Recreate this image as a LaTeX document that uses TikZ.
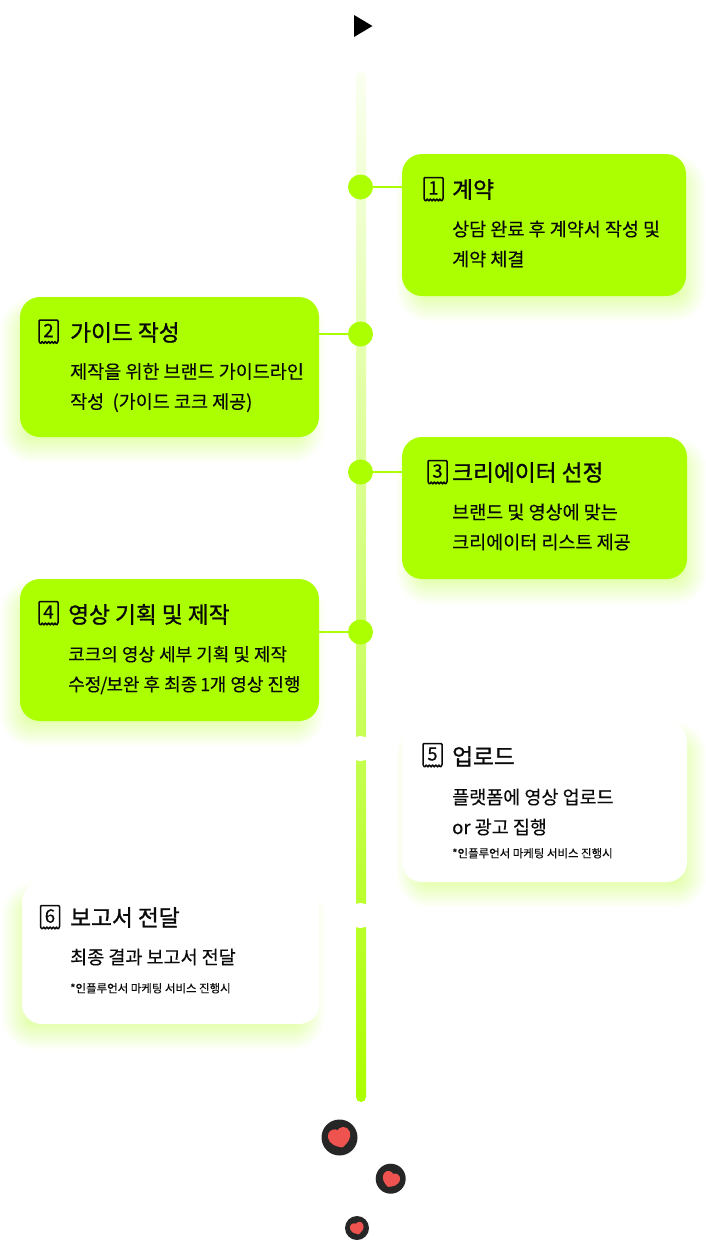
\documentclass[tikz,border=0pt]{standalone}
\usepackage{fontspec}
\setmainfont{Noto Sans CJK KR}
\newfontfamily\krm[FakeBold=0.25]{Noto Sans CJK KR}
\newfontfamily\krb[FakeBold=1.1]{Noto Sans CJK KR}
\newfontfamily\krn[FakeBold=0.5]{Noto Sans CJK KR}
\definecolor{lime}{HTML}{ABFF00}
\definecolor{inkdark}{HTML}{0A0A0A}
\definecolor{ballc}{HTML}{262626}
\definecolor{heartc}{HTML}{EF5350}
\tikzset{
  x=1pt,y=-1pt,
  cardbase/.style={rounded corners=20pt,minimum width=#1,inner sep=0pt,outer sep=0pt},
  dotn/.style={circle,fill=lime,minimum size=25pt,inner sep=0pt,outer sep=0pt},
  gapn/.style={circle,fill=white,minimum size=25pt,inner sep=0pt},
  linkline/.style={draw=lime,line width=1.2pt},
  titlet/.style={anchor=base west,inner sep=0pt,text=inkdark,font=\krb\fontsize{22.7}{24}\selectfont},
  bodyt/.style={anchor=base west,inner sep=0pt,text=inkdark,font=\krm\fontsize{18.5}{20}\selectfont},
  bodysmall/.style={anchor=base west,inner sep=0pt,text=inkdark,font=\krm\fontsize{18}{20}\selectfont},
  notet/.style={anchor=base west,inner sep=0pt,text=inkdark,font=\krm\fontsize{11.45}{13}\selectfont},
  numt/.style={inner sep=0pt,text=inkdark,font=\krn\fontsize{18.5}{19}\selectfont},
  iconline/.style={draw=inkdark,line width=1.5pt,line join=round},
}
% soft shadow: x1 y1 x2 y2 dx
\newcommand{\cardglow}[5]{%
  \foreach \k in {0,...,26}{%
    \pgfmathsetmacro{\gr}{13-\k}
    \pgfmathsetmacro{\rr}{max(20+\gr,4)}
    \path[fill=lime,fill opacity=0.013,rounded corners=\rr pt]
      ({#1+#5-\gr},{#2+13-\gr}) rectangle ({#3+#5+\gr},{#4+13+\gr});
  }}
% receipt icon: left top number name
\newcommand{\receipt}[4]{%
  \draw[iconline] (#1,#2+21)--(#1,#2+1)--(#1+1,#2)--(#1+18,#2)--(#1+19,#2+1)--(#1+19,#2+21)
    .. controls (#1+18,#2+24) and (#1+17.2,#2+24) .. (#1+16,#2+21.5)
    .. controls (#1+15,#2+24) and (#1+14,#2+24) .. (#1+12.8,#2+21.5)
    .. controls (#1+11.8,#2+24) and (#1+10.8,#2+24) .. (#1+9.6,#2+21.5)
    .. controls (#1+8.6,#2+24) and (#1+7.6,#2+24) .. (#1+6.4,#2+21.5)
    .. controls (#1+5.4,#2+24) and (#1+4.4,#2+24) .. (#1+3.2,#2+21.5)
    .. controls (#1+2.2,#2+24) and (#1+1,#2+24) .. (#1,#2+21);
  \node[numt] (#4) at (#1+9.5,#2+10.5) {#3};}
% heart: cx cy size rotation
\newcommand{\heartshape}[4]{%
  \filldraw[fill=heartc,draw=heartc,line join=round,line width=#3*0.3pt,shift={(#1,#2)},rotate=#4,scale=#3]
    (0,0.95) .. controls (-0.5,0.72) and (-1.05,0.35) .. (-1,-0.25)
    .. controls (-0.95,-0.85) and (-0.2,-0.9) .. (0,-0.5)
    .. controls (0.2,-0.9) and (0.95,-0.85) .. (1,-0.25)
    .. controls (1.05,0.35) and (0.5,0.72) .. (0,0.95) -- cycle;}
\begin{document}
\begin{tikzpicture}
\useasboundingbox[fill=white] (0,0) rectangle (705,1245);
% start triangle
\fill[black] (354,15) -- (372.5,26) -- (354,37) -- cycle;
% spine
\node[minimum width=10pt,minimum height=1030pt,inner sep=0pt,rounded corners=5pt,
  top color=lime!6!white,bottom color=lime] (spine) at (361,587) {};
\node[gapn] (gapA) at (360.5,748.5) {};
\node[gapn] (gapB) at (360.5,915.5) {};
% glows
\cardglow{402}{154}{686}{296}{7}
\cardglow{20}{297}{319}{437}{-7}
\cardglow{402}{437}{687}{579}{7}
\cardglow{20}{579}{319}{721}{-7}
\cardglow{402}{722}{687}{882}{7}
\cardglow{22}{882}{319}{1024}{-7}
% dots
\node[dotn] (dotA) at (360.5,187) {};
\node[dotn] (dotB) at (360.5,334) {};
\node[dotn] (dotC) at (360.5,472) {};
\node[dotn] (dotD) at (360.5,632) {};
% cards
\node[cardbase=284pt,minimum height=142pt,fill=lime] (cardA) at (544,225) {};
\node[cardbase=299pt,minimum height=140pt,fill=lime] (cardB) at (169.5,367) {};
\node[cardbase=285pt,minimum height=142pt,fill=lime] (cardC) at (544.5,508) {};
\node[cardbase=299pt,minimum height=142pt,fill=lime] (cardD) at (169.5,650) {};
\node[cardbase=285pt,minimum height=160pt,fill=white] (cardE) at (544.5,802) {};
\node[cardbase=297pt,minimum height=142pt,fill=white] (cardF) at (170.5,953) {};
% connectors
\draw[linkline] (dotA.east) -- (dotA.east -| cardA.west);
\draw[linkline] (dotB.west) -- (dotB.west -| cardB.east);
\draw[linkline] (dotC.east) -- (dotC.east -| cardC.west);
\draw[linkline] (dotD.west) -- (dotD.west -| cardD.east);
% card 1
\receipt{424}{177.5}{1}{numA}
\node[titlet] (titleA) at (452,198) {계약};
\node[bodyt] (bodyA1) at (452,236) {상담 완료 후 계약서 작성 및};
\node[bodyt] (bodyA2) at (452,266) {계약 체결};
% card 2
\receipt{39}{320}{2}{numB}
\node[titlet] (titleB) at (70,341) {가이드 작성};
\node[bodyt] (bodyB1) at (70,378.5) {제작을 위한 브랜드 가이드라인};
\node[bodyt] (bodyB2) at (70,408.5) {작성\ \ (가이드 코크 제공)};
% card 3
\receipt{428}{460.5}{3}{numC}
\node[titlet] (titleC) at (452,481) {크리에이터 선정};
\node[bodyt] (bodyC1) at (452,519) {브랜드 및 영상에 맞는};
\node[bodyt] (bodyC2) at (452,549) {크리에이터 리스트 제공};
% card 4
\receipt{39}{601.5}{4}{numD}
\node[titlet] (titleD) at (68,623) {영상 기획 및 제작};
\node[bodysmall] (bodyD1) at (68,661) {코크의 영상 세부 기획 및 제작};
\node[bodysmall] (bodyD2) at (68,691) {수정\kern-1pt/\kern-1pt보완 후 최종 \kern-1pt1\kern-0.5pt개 영상 진행};
% card 5
\receipt{423}{743.5}{5}{numE}
\node[titlet] (titleE) at (452,765) {업로드};
\node[bodyt] (bodyE1) at (452,804) {플랫폼에 영상 업로드};
\node[bodyt] (bodyE2) at (452,834) {or 광고 집행};
\node[notet] (noteE) at (452,857.5) {*인플루언서 마케팅 서비스 진행시};
% card 6
\receipt{40.5}{905.5}{6}{numF}
\node[titlet] (titleF) at (70,926) {보고서 전달};
\node[bodyt] (bodyF1) at (70,964) {최종 결과 보고서 전달};
\node[notet] (noteF) at (70,992.5) {*인플루언서 마케팅 서비스 진행시};
% hearts
\node[circle,fill=ballc,minimum size=36pt,inner sep=0pt] (ballA) at (339.5,1137.5) {};
\node[circle,fill=ballc,minimum size=30pt,inner sep=0pt] (ballB) at (390.7,1178.7) {};
\node[circle,fill=ballc,minimum size=24pt,inner sep=0pt] (ballC) at (357,1228) {};
\heartshape{339.5}{1137}{9.8}{15}
\heartshape{391}{1179}{7.6}{-22}
\heartshape{357}{1228}{6}{15}
\end{tikzpicture}
\end{document}
